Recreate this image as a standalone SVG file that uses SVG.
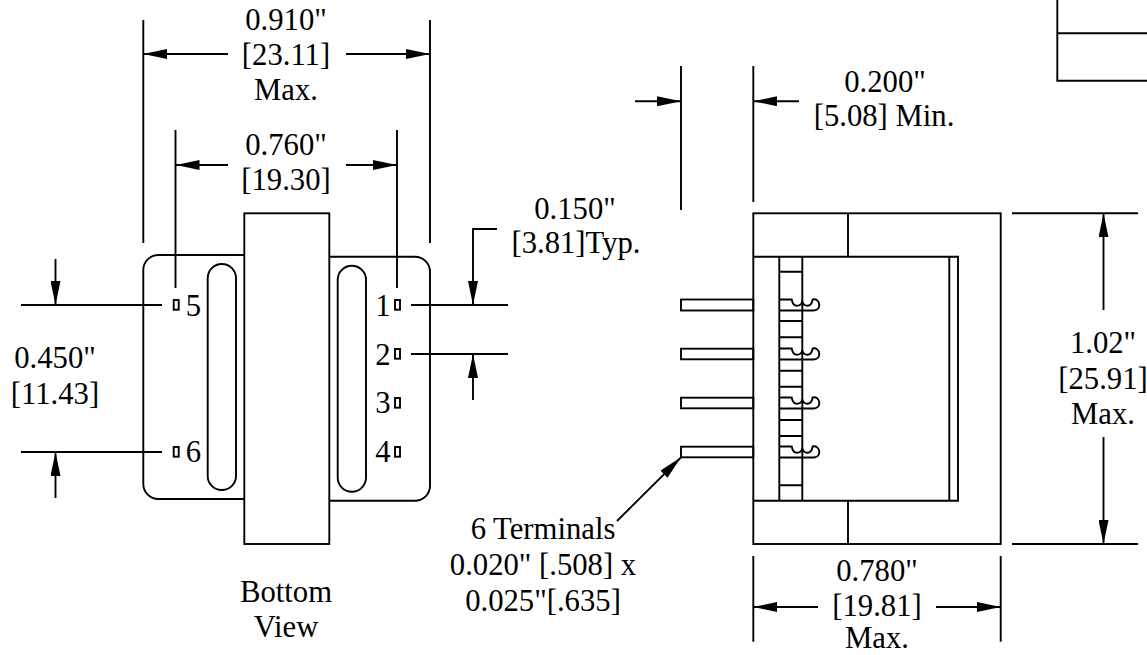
<svg xmlns="http://www.w3.org/2000/svg" width="1147" height="655" viewBox="0 0 1147 655">
<defs>
<style>
.l{fill:none;stroke:#000;stroke-width:1.9}
.a{marker-end:url(#h)}
text{font-family:"Liberation Serif","Times New Roman",serif;font-size:30.7px;fill:#000;text-anchor:middle}
</style>
<marker id="h" markerUnits="userSpaceOnUse" viewBox="0 0 24 10" refX="24" refY="5" markerWidth="24" markerHeight="10" orient="auto"><path d="M0 0L24 5L0 10Z" fill="#000"/></marker>
<g id="hook"><path class="l" d="M779.3 0H791.7C792.5 4 794.5 6.3 796.8 6.3C799.5 6.3 801.6 4.5 802.3 2.3C803 4.5 805 6.3 807.4 6.3C810 6.3 812 3.5 812.7 0C816 -1 819.3 1.5 819.3 5.5C819.3 9 816.5 11 813.3 11H779.3"/></g>
</defs>
<rect width="1147" height="655" fill="#fff"/>
<g id="bottom-view">
<path class="l" d="M244.3 255H158.3A15 15 0 0 0 143.3 270V484A15 15 0 0 0 158.3 499H245"/>
<path class="l" d="M329.3 256.7H415A15 15 0 0 1 430 271.7V485.7A15 15 0 0 1 415 500.7H329.3"/>
<rect class="l" x="244.3" y="213.3" width="85" height="330.7"/>
<rect class="l" x="207.7" y="264" width="28.3" height="226" rx="14.1"/>
<rect class="l" x="337.7" y="265.7" width="28.3" height="226" rx="14.1"/>
<rect class="l" x="173.7" y="300" width="5" height="9.7"/>
<rect class="l" x="173.7" y="447" width="5" height="9.7"/>
<rect class="l" x="395" y="300" width="5" height="9.7"/>
<rect class="l" x="395" y="349" width="5" height="9.7"/>
<rect class="l" x="395" y="398" width="5" height="9.7"/>
<rect class="l" x="395" y="447" width="5" height="9.7"/>
<text x="193.5" y="316">5</text>
<text x="193.5" y="462">6</text>
<text x="383" y="316">1</text>
<text x="383" y="365">2</text>
<text x="383" y="413">3</text>
<text x="383" y="462">4</text>
<text x="286" y="602">Bottom</text>
<text x="286" y="637">View</text>
</g>
<g id="side-view">
<rect class="l" x="753.3" y="213.3" width="247.4" height="330.7"/>
<path class="l" d="M753.3 256.7H958V500.7H753.3M949.3 256.7V500.7M848 213.3V256.7M848 500.7V544"/>
<path class="l" d="M779.3 256.7V500.7M802.3 256.7V500.7M779.3 271.7H802.3M779.3 321H802.3M779.3 337.3H802.3M779.3 370.7H802.3M779.3 386.7H802.3M779.3 420H802.3M779.3 436H802.3M779.3 485.3H802.3"/>
<rect class="l" x="681" y="299.5" width="72.3" height="11"/>
<rect class="l" x="681" y="348.7" width="72.3" height="10.6"/>
<rect class="l" x="681" y="397.7" width="72.3" height="10.6"/>
<rect class="l" x="681" y="446.7" width="72.3" height="10.6"/>
<use href="#hook" y="299.5"/>
<use href="#hook" y="348.5"/>
<use href="#hook" y="397.5"/>
<use href="#hook" y="446.5"/>
</g>
<g id="title-block">
<path class="l" d="M1147 80.7H1057.3V0M1057.3 33.3H1147"/>
</g>
<g id="connectors">
<path class="l" d="M143.3 20V243M430 20V243M175.5 130V288M397 130V288"/>
<path class="l a" d="M228 54H143.3"/><path class="l a" d="M346 54H430"/>
<path class="l a" d="M228 165H175.5"/><path class="l a" d="M346 165H397"/>
<path class="l" d="M21 305H162M21 452H162"/>
<path class="l a" d="M55.5 259V305"/><path class="l a" d="M55.5 498V452"/>
<path class="l" d="M411 305H508M411 354H508"/>
<path class="l a" d="M497 229H473V305"/><path class="l a" d="M473 400V354"/>
<path class="l" d="M681 66V210M753.3 66V202"/>
<path class="l a" d="M635 101.3H681"/><path class="l a" d="M799 101.3H753.3"/>
<path class="l" d="M1012 213.3H1138M1012 544H1138"/>
<path class="l a" d="M1103.5 310V213.3"/><path class="l a" d="M1103.5 437V544"/>
<path class="l" d="M753.3 556V641.7M1000.7 556V641.7"/>
<path class="l a" d="M818 607H753.3"/><path class="l a" d="M936 607H1000.7"/>
<path class="l a" d="M617 521L681 457.3"/>
</g>
<g id="labels">
<text x="286" y="30">0.910"</text>
<text x="286" y="65">[23.11]</text>
<text x="286" y="100">Max.</text>
<text x="286" y="155">0.760"</text>
<text x="286" y="190">[19.30]</text>
<text x="885" y="91.5">0.200"</text>
<text x="884" y="126">[5.08] Min.</text>
<text x="575" y="219">0.150"</text>
<text x="576" y="253">[3.81]Typ.</text>
<text x="55" y="368">0.450"</text>
<text x="55" y="404">[11.43]</text>
<text x="1103" y="353">1.02"</text>
<text x="1103" y="389">[25.91]</text>
<text x="1103" y="424">Max.</text>
<text x="877" y="581">0.780"</text>
<text x="877" y="616">[19.81]</text>
<text x="877" y="648">Max.</text>
<text x="543" y="539">6 Terminals</text>
<text x="543" y="575">0.020" [.508] x</text>
<text x="543" y="611">0.025"[.635]</text>
</g>
</svg>
